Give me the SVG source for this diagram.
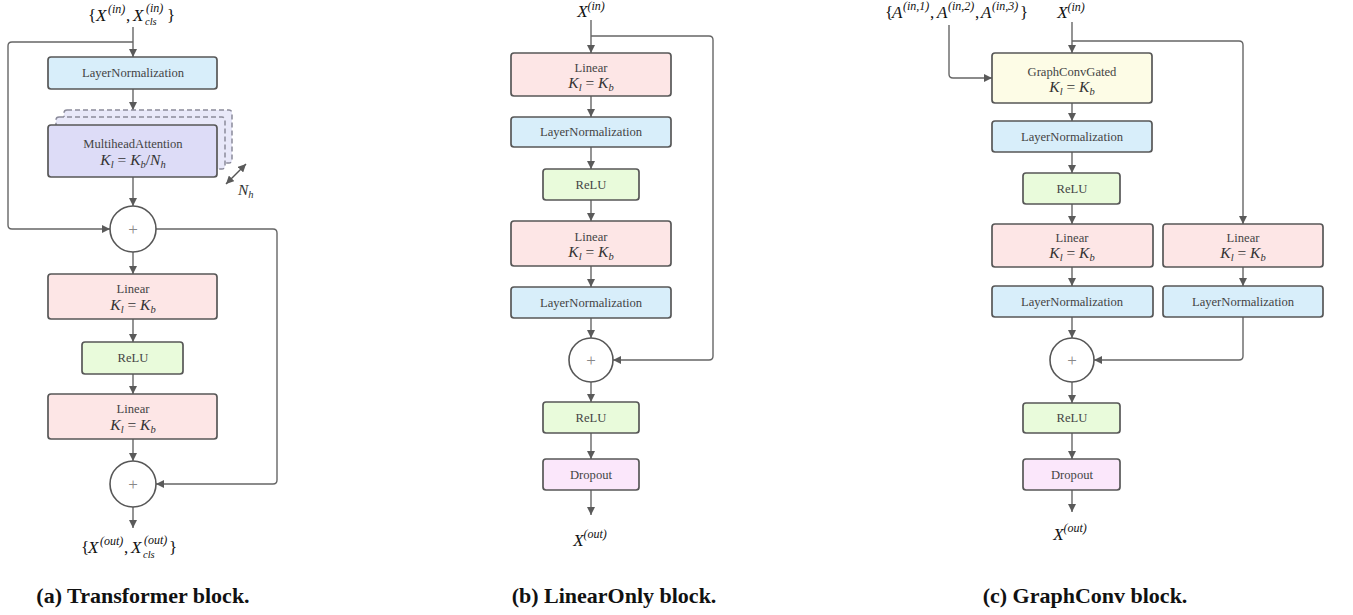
<svg xmlns="http://www.w3.org/2000/svg" width="1353" height="615" viewBox="0 0 1353 615">
<style>
.box{stroke:#575757;stroke-width:1.7}
.ln{fill:#d8eefa}.lin{fill:#fde6e6}.relu{fill:#e9fbdb}.drop{fill:#fbe7fb}.gcg{fill:#fdfce6}.mha{fill:#dddcf7}
.dash{fill:#e8e8f9;stroke:#8a8a9a;stroke-width:1.5;stroke-dasharray:5 3}
.circ{fill:#fff;stroke:#575757;stroke-width:1.6}
.t{font-family:"Liberation Serif",serif;font-size:12.6px;fill:#444;text-anchor:middle}
.plus{font-family:"Liberation Serif",serif;font-size:17px;fill:#888;text-anchor:middle}
.m{font-family:"Liberation Serif",serif;font-style:italic;font-size:15.5px;fill:#333}
.mc{text-anchor:middle}
.big{font-size:17px;fill:#111}
.s{font-size:12px}
.sb{font-size:10.5px}
.up{font-style:normal}
.cap{font-family:"Liberation Serif",serif;font-weight:bold;font-size:22px;fill:#111;text-anchor:middle}
.c{fill:none;stroke:#666;stroke-width:1.4}
</style>
<defs>
<marker id="ah" viewBox="0 0 10 10" refX="10" refY="5" markerWidth="8" markerHeight="8" markerUnits="userSpaceOnUse" orient="auto">
<path d="M0,0 L10,5 L0,10 z" fill="#5a5a5a"/>
</marker>
<marker id="ahs" viewBox="0 0 10 10" refX="10" refY="5" markerWidth="8" markerHeight="8" markerUnits="userSpaceOnUse" orient="auto-start-reverse">
<path d="M0,0 L10,5 L0,10 z" fill="#5a5a5a"/>
</marker>
</defs>

<g id="connectors">
<!-- panel a -->
<path class="c" marker-end="url(#ah)" d="M133,27 V57"/>
<path class="c" marker-end="url(#ah)" d="M133,42 H12 Q8,42 8,46 V225 Q8,229 12,229 H110"/>
<path class="c" marker-end="url(#ah)" d="M133,89 V110"/>
<path class="c" marker-end="url(#ah)" d="M133,177 V206"/>
<path class="c" marker-end="url(#ah)" d="M156,229 H273 Q277,229 277,233 V480 Q277,484 273,484 H156"/>
<path class="c" marker-end="url(#ah)" d="M133,252 V274"/>
<path class="c" marker-end="url(#ah)" d="M133,319 V342"/>
<path class="c" marker-end="url(#ah)" d="M133,374 V394"/>
<path class="c" marker-end="url(#ah)" d="M133,439 V461"/>
<path class="c" marker-end="url(#ah)" d="M133,507 V528"/>
<path class="c" style="stroke:#555" marker-start="url(#ahs)" marker-end="url(#ahs)" d="M226,184 L246,164"/>
<!-- panel b -->
<path class="c" marker-end="url(#ah)" d="M591,20 V53"/>
<path class="c" marker-end="url(#ah)" d="M591,36 H709 Q713,36 713,40 V356 Q713,360 709,360 H613"/>
<path class="c" marker-end="url(#ah)" d="M591,96 V117"/>
<path class="c" marker-end="url(#ah)" d="M591,147 V169"/>
<path class="c" marker-end="url(#ah)" d="M591,200 V221"/>
<path class="c" marker-end="url(#ah)" d="M591,266 V287"/>
<path class="c" marker-end="url(#ah)" d="M591,318 V338"/>
<path class="c" marker-end="url(#ah)" d="M591,382 V402"/>
<path class="c" marker-end="url(#ah)" d="M591,433 V459"/>
<path class="c" marker-end="url(#ah)" d="M591,490 V515"/>
<!-- panel c -->
<path class="c" marker-end="url(#ah)" d="M949,25 V74 Q949,78 953,78 H992"/>
<path class="c" marker-end="url(#ah)" d="M1072,22 V53"/>
<path class="c" marker-end="url(#ah)" d="M1072,41 H1239 Q1243,41 1243,45 V224"/>
<path class="c" marker-end="url(#ah)" d="M1072,103 V121"/>
<path class="c" marker-end="url(#ah)" d="M1072,152 V173"/>
<path class="c" marker-end="url(#ah)" d="M1072,204 V224"/>
<path class="c" marker-end="url(#ah)" d="M1072,267 V286"/>
<path class="c" marker-end="url(#ah)" d="M1072,317 V338"/>
<path class="c" marker-end="url(#ah)" d="M1243,267 V286"/>
<path class="c" marker-end="url(#ah)" d="M1243,317 V356 Q1243,360 1239,360 H1094"/>
<path class="c" marker-end="url(#ah)" d="M1072,382 V403"/>
<path class="c" marker-end="url(#ah)" d="M1072,433 V459"/>
<path class="c" marker-end="url(#ah)" d="M1072,490 V512"/>
</g>

<!-- ===== Panel (a) ===== -->
<g id="a-input">
<text class="m big" y="21"><tspan x="88" class="up">{</tspan><tspan x="96">X</tspan><tspan x="108" y="13" class="s">(in)</tspan><tspan x="126" y="21" class="up">,</tspan><tspan x="133">X</tspan><tspan x="146" y="12" class="s">(in)</tspan><tspan x="145" y="25" class="sb">cls</tspan><tspan x="167" y="21" class="up">}</tspan></text>
</g>
<g id="a-ln">
<rect class="box ln" x="48" y="57" width="169" height="32" rx="3"/>
<text class="t" x="133" y="77">LayerNormalization</text>
</g>
<g id="a-mha">
<rect class="dash" x="64" y="110" width="168" height="53" rx="3"/>
<rect class="dash" x="56" y="117" width="169" height="52" rx="3"/>
<rect class="box mha" x="48" y="125" width="169" height="52" rx="3"/>
<text class="t" x="133" y="148">MultiheadAttention</text>
<text class="m mc" x="133" y="165">K<tspan class="sb" dy="3">l</tspan><tspan class="up" dy="-3"> = </tspan>K<tspan class="sb" dy="3">b</tspan><tspan class="up" dy="-3">/</tspan>N<tspan class="sb" dy="3">h</tspan></text>
</g>
<g id="a-nh">
<text class="m" x="238" y="195">N<tspan class="sb" dy="3">h</tspan></text>
</g>
<g id="a-add1">
<circle class="circ" cx="133" cy="229" r="23"/>
<text class="plus" x="133" y="235">+</text>
</g>
<g id="a-lin1">
<rect class="box lin" x="48" y="274" width="169" height="45" rx="3"/>
<text class="t" x="133" y="293">Linear</text>
<text class="m mc" x="133" y="310">K<tspan class="sb" dy="3">l</tspan><tspan class="up" dy="-3"> = </tspan>K<tspan class="sb" dy="3">b</tspan></text>
</g>
<g id="a-relu">
<rect class="box relu" x="82" y="342" width="101" height="32" rx="3"/>
<text class="t" x="133" y="362">ReLU</text>
</g>
<g id="a-lin2">
<rect class="box lin" x="48" y="394" width="169" height="45" rx="3"/>
<text class="t" x="133" y="413">Linear</text>
<text class="m mc" x="133" y="430">K<tspan class="sb" dy="3">l</tspan><tspan class="up" dy="-3"> = </tspan>K<tspan class="sb" dy="3">b</tspan></text>
</g>
<g id="a-add2">
<circle class="circ" cx="133" cy="484" r="23"/>
<text class="plus" x="133" y="490">+</text>
</g>
<g id="a-output">
<text class="m big" y="553"><tspan x="81" class="up">{</tspan><tspan x="88">X</tspan><tspan x="100" y="545" class="s">(out)</tspan><tspan x="124" y="553" class="up">,</tspan><tspan x="131">X</tspan><tspan x="144" y="544" class="s">(out)</tspan><tspan x="143" y="558" class="sb">cls</tspan><tspan x="169" y="553" class="up">}</tspan></text>
</g>
<text class="cap" x="143" y="603">(a) Transformer block.</text>

<!-- ===== Panel (b) ===== -->
<g id="b-input">
<text class="m big mc" x="591" y="17">X<tspan class="s" dy="-7">(in)</tspan></text>
</g>
<g id="b-lin1">
<rect class="box lin" x="511" y="53" width="160" height="43" rx="3"/>
<text class="t" x="591" y="72">Linear</text>
<text class="m mc" x="591" y="88">K<tspan class="sb" dy="3">l</tspan><tspan class="up" dy="-3"> = </tspan>K<tspan class="sb" dy="3">b</tspan></text>
</g>
<g id="b-ln1">
<rect class="box ln" x="511" y="117" width="160" height="30" rx="3"/>
<text class="t" x="591" y="136">LayerNormalization</text>
</g>
<g id="b-relu1">
<rect class="box relu" x="543" y="169" width="96" height="31" rx="3"/>
<text class="t" x="591" y="189">ReLU</text>
</g>
<g id="b-lin2">
<rect class="box lin" x="511" y="221" width="160" height="45" rx="3"/>
<text class="t" x="591" y="241">Linear</text>
<text class="m mc" x="591" y="257">K<tspan class="sb" dy="3">l</tspan><tspan class="up" dy="-3"> = </tspan>K<tspan class="sb" dy="3">b</tspan></text>
</g>
<g id="b-ln2">
<rect class="box ln" x="511" y="287" width="160" height="31" rx="3"/>
<text class="t" x="591" y="307">LayerNormalization</text>
</g>
<g id="b-add">
<circle class="circ" cx="591" cy="360" r="22"/>
<text class="plus" x="591" y="366">+</text>
</g>
<g id="b-relu2">
<rect class="box relu" x="543" y="402" width="96" height="31" rx="3"/>
<text class="t" x="591" y="422">ReLU</text>
</g>
<g id="b-drop">
<rect class="box drop" x="543" y="459" width="96" height="31" rx="3"/>
<text class="t" x="591" y="479">Dropout</text>
</g>
<g id="b-output">
<text class="m big mc" x="590" y="546">X<tspan class="s" dy="-8">(out)</tspan></text>
</g>
<text class="cap" x="614" y="603">(b) LinearOnly block.</text>

<!-- ===== Panel (c) ===== -->
<g id="c-adj">
<text class="m big" y="18"><tspan x="885" class="up">{</tspan><tspan x="892">A</tspan><tspan x="903" y="10" class="s">(in,1)</tspan><tspan x="930" y="18" class="up">,</tspan><tspan x="937">A</tspan><tspan x="948" y="10" class="s">(in,2)</tspan><tspan x="975" y="18" class="up">,</tspan><tspan x="981">A</tspan><tspan x="992" y="10" class="s">(in,3)</tspan><tspan x="1020" y="18" class="up">}</tspan></text>
</g>
<g id="c-input">
<text class="m big mc" x="1071" y="18">X<tspan class="s" dy="-7">(in)</tspan></text>
</g>
<g id="c-gcg">
<rect class="box gcg" x="992" y="53" width="160" height="50" rx="3"/>
<text class="t" x="1072" y="76">GraphConvGated</text>
<text class="m mc" x="1072" y="92">K<tspan class="sb" dy="3">l</tspan><tspan class="up" dy="-3"> = </tspan>K<tspan class="sb" dy="3">b</tspan></text>
</g>
<g id="c-ln1">
<rect class="box ln" x="992" y="121" width="160" height="31" rx="3"/>
<text class="t" x="1072" y="141">LayerNormalization</text>
</g>
<g id="c-relu1">
<rect class="box relu" x="1023" y="173" width="97" height="31" rx="3"/>
<text class="t" x="1072" y="193">ReLU</text>
</g>
<g id="c-lin-l">
<rect class="box lin" x="992" y="224" width="161" height="43" rx="3"/>
<text class="t" x="1072" y="242">Linear</text>
<text class="m mc" x="1072" y="258">K<tspan class="sb" dy="3">l</tspan><tspan class="up" dy="-3"> = </tspan>K<tspan class="sb" dy="3">b</tspan></text>
</g>
<g id="c-lin-r">
<rect class="box lin" x="1163" y="224" width="160" height="43" rx="3"/>
<text class="t" x="1243" y="242">Linear</text>
<text class="m mc" x="1243" y="258">K<tspan class="sb" dy="3">l</tspan><tspan class="up" dy="-3"> = </tspan>K<tspan class="sb" dy="3">b</tspan></text>
</g>
<g id="c-ln-l">
<rect class="box ln" x="992" y="286" width="161" height="31" rx="3"/>
<text class="t" x="1072" y="306">LayerNormalization</text>
</g>
<g id="c-ln-r">
<rect class="box ln" x="1163" y="286" width="160" height="31" rx="3"/>
<text class="t" x="1243" y="306">LayerNormalization</text>
</g>
<g id="c-add">
<circle class="circ" cx="1072" cy="360" r="22"/>
<text class="plus" x="1072" y="366">+</text>
</g>
<g id="c-relu2">
<rect class="box relu" x="1023" y="403" width="97" height="30" rx="3"/>
<text class="t" x="1072" y="422">ReLU</text>
</g>
<g id="c-drop">
<rect class="box drop" x="1023" y="459" width="97" height="31" rx="3"/>
<text class="t" x="1072" y="479">Dropout</text>
</g>
<g id="c-output">
<text class="m big mc" x="1070" y="540">X<tspan class="s" dy="-8">(out)</tspan></text>
</g>
<text class="cap" x="1085" y="603">(c) GraphConv block.</text>
</svg>
